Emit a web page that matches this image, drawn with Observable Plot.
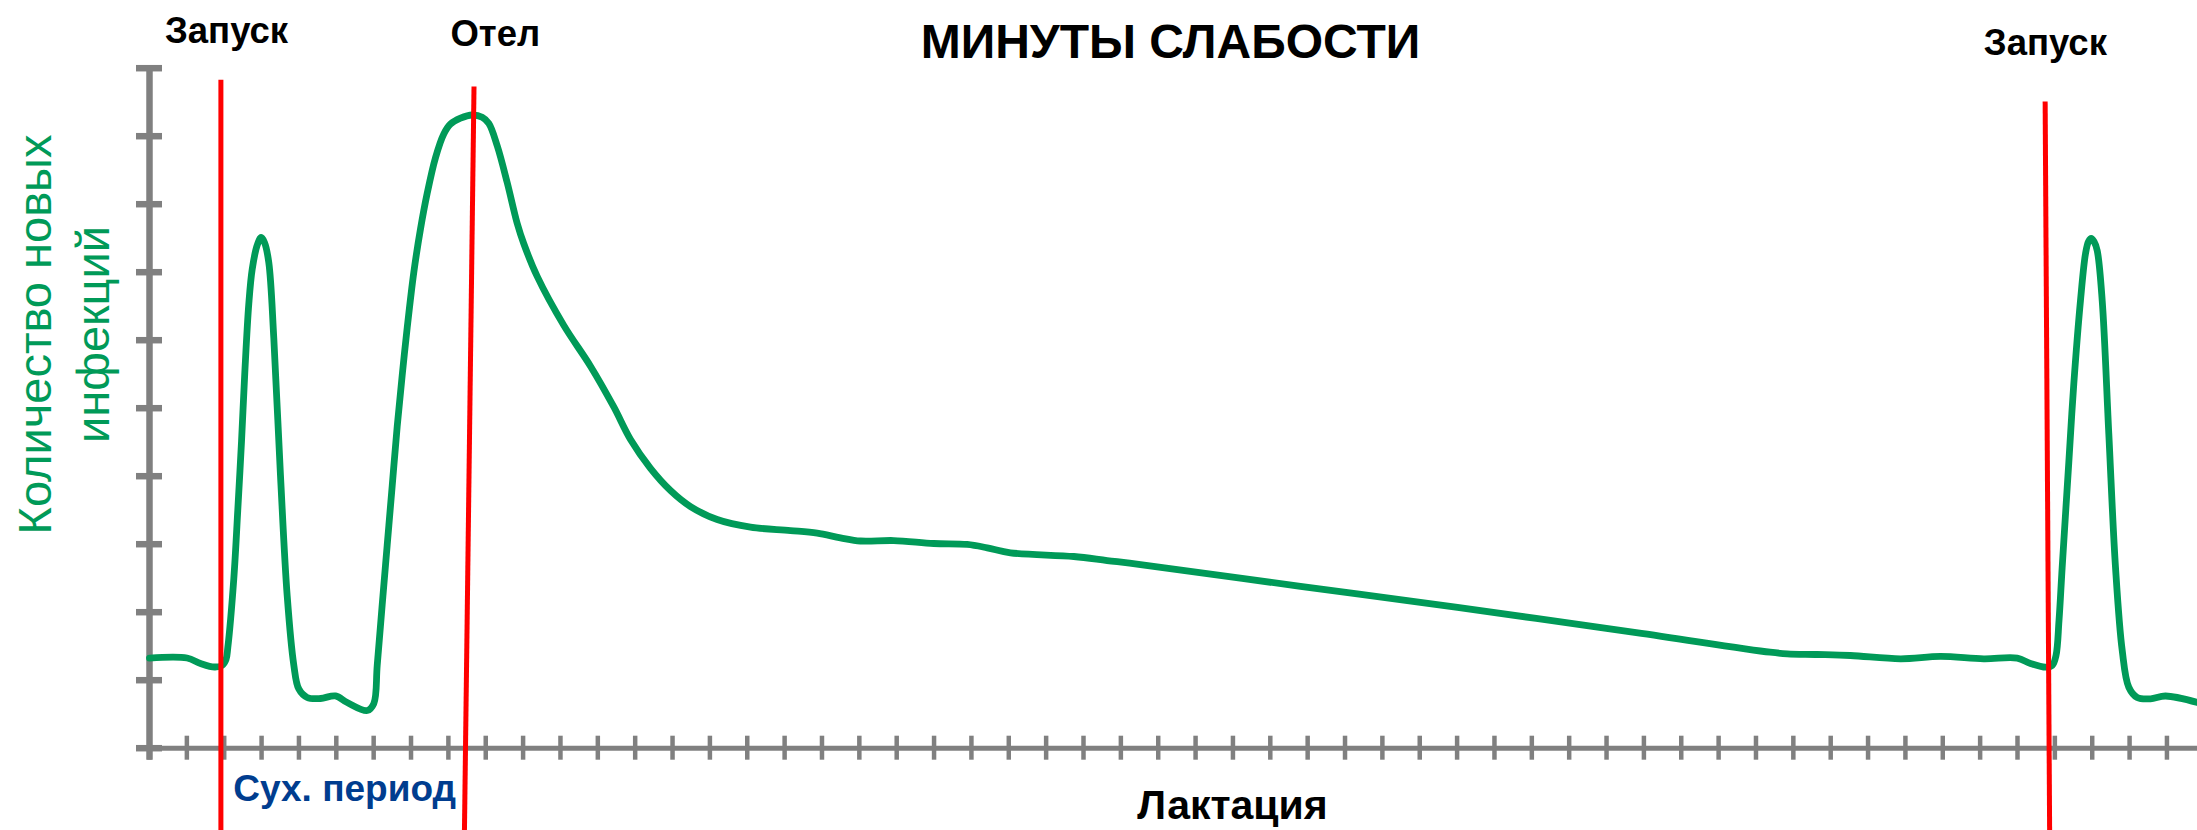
<!DOCTYPE html>
<html>
<head>
<meta charset="utf-8">
<script src="https://cdn.jsdelivr.net/npm/d3@7"></script>
<script src="https://cdn.jsdelivr.net/npm/@observablehq/plot@0.6"></script>
<style>
  html, body { margin: 0; padding: 0; background: #fff; overflow: hidden; }
  svg { display: block; }
</style>
</head>
<body>
<div id="chart"></div>
<script>
// ---- data (x in axis-tick units, y in axis-tick units) ----
const curveX = [0, 1.004, 1.365, 1.740, 1.941, 2.048, 2.096, 2.256, 2.363, 2.463, 2.551, 2.658, 2.749, 2.883, 2.990, 3.078, 3.193, 3.327, 3.506, 3.686, 3.862, 3.996,
  4.221, 4.577, 4.979, 5.292, 5.827, 6.004, 6.095, 6.229, 6.362, 6.496, 6.630, 6.764, 6.898, 7.074, 7.254, 7.433, 7.655, 7.877, 8.057, 8.324, 8.638,
  8.905, 9.082, 9.307, 9.574, 9.842, 10.019, 10.377, 11.089, 11.804, 12.428, 12.875, 13.410, 13.945, 14.481, 15.195, 16.087, 17.157, 17.872, 18.496, 19.031,
  19.922, 20.993, 21.887, 22.422, 23.046, 24.740, 25.634, 26.526, 30.808, 35.011, 39.794, 43.378, 43.836, 44.639, 45.530, 46.869, 47.939, 49.098, 49.992, 50.348,
  50.749, 50.929, 51.031, 51.111, 51.196, 51.373, 51.507, 51.686, 51.820, 51.900, 51.973, 52.048, 52.133, 52.267, 52.444, 52.623, 52.803, 52.979, 53.204, 53.560,
  53.961, 54.818];
const curveY = [1.326, 1.326, 1.246, 1.194, 1.216, 1.304, 1.481, 2.490, 3.501, 4.513, 5.525, 6.537, 7.043, 7.397, 7.510, 7.437, 7.143, 6.031, 4.010, 2.237, 1.225, 0.871,
  0.746, 0.731, 0.769, 0.672, 0.554, 0.657, 1.216, 2.113, 2.985, 3.857, 4.731, 5.485, 6.184, 6.996, 7.637, 8.160, 8.684, 9.032, 9.178, 9.265, 9.312,
  9.279, 9.188, 8.859, 8.319, 7.718, 7.418, 6.938, 6.218, 5.618, 5.018, 4.540, 4.116, 3.790, 3.554, 3.363, 3.250, 3.201, 3.162, 3.094, 3.047,
  3.054, 3.010, 2.996, 2.947, 2.874, 2.819, 2.760, 2.701, 2.380, 2.070, 1.700, 1.412, 1.388, 1.378, 1.363, 1.315, 1.349, 1.315, 1.324, 1.246,
  1.191, 1.216, 1.363, 1.878, 2.662, 4.201, 5.359, 6.584, 7.271, 7.451, 7.496, 7.451, 7.319, 6.584, 4.624, 2.662, 1.437, 0.897, 0.746, 0.726,
  0.768, 0.672];

const eventLabels  = ["Запуск", "Отел", "Запуск"];
const eventXTop    = [1.911, 8.686, 50.74];
const eventXBottom = [1.911, 8.43, 50.86];
const eventYTop    = [9.83, 9.73, 9.51];
const eventYBottom = -1.21;

const xTicks = d3.range(0, 55);
const yTicks = d3.range(0, 11);

const titleText = "МИНУТЫ СЛАБОСТИ";
const yLabelText = "Количество новых\nинфекций";
const xLabelText = "Лактация";
const dryLabelText = "Сух. период";

// ---- build ----
const curve = curveX.map((x, i) => ({x, y: curveY[i]}));
const events = eventLabels.map((label, i) => ({label, xTop: eventXTop[i], xBottom: eventXBottom[i], yTop: eventYTop[i], yBottom: eventYBottom}));

const GREEN = "#009a58";
const GRAY = "#808080";
const RED = "#ff0000";
const BLUE = "#003d8f";

const labelOffsets = [{dx: 5.6, dy: -36.3}, {dx: 21.3, dy: -41}, {dx: 0.2, dy: -46.5}];

const chart = Plot.plot({
  width: 2197,
  height: 830,
  marginLeft: 149,
  marginRight: 0,
  marginTop: 67.7,
  marginBottom: 82.3,
  x: {domain: [0, 54.818], axis: null},
  y: {domain: [0, 10], axis: null},
  style: {fontFamily: "'Liberation Sans', Arial, Helvetica, sans-serif", background: "#fff", overflow: "hidden"},
  marks: [
    // axes
    Plot.ruleX(xTicks, {y1: () => 0, y2: () => 0, insetTop: -12, insetBottom: -12, stroke: GRAY, strokeWidth: 4.5}),
    Plot.ruleY([0], {stroke: GRAY, strokeWidth: 5, insetLeft: -13}),
    Plot.ruleX([0], {stroke: GRAY, strokeWidth: 6.5, insetBottom: -12}),
    Plot.ruleY(yTicks, {x1: () => 0, x2: () => 0, insetLeft: -13, insetRight: -13, stroke: GRAY, strokeWidth: 6.5}),
    // curve
    Plot.line(curve, {x: "x", y: "y", stroke: GREEN, strokeWidth: 6.8, curve: "catmull-rom"}),
    // event lines
    Plot.link(events, {x1: "xTop", y1: "yTop", x2: "xBottom", y2: "yBottom", stroke: RED, strokeWidth: 5}),
    // event labels
    ...events.map((e, i) => Plot.text([e], {
      x: "xTop", y: "yTop", text: "label",
      dx: labelOffsets[i].dx, dy: labelOffsets[i].dy,
      lineAnchor: "bottom", textAnchor: "middle",
      fontSize: 36.5, fontWeight: "bold", fill: "#000"
    })),
    // title
    Plot.text([titleText], {frameAnchor: "top", dx: -3, dy: -9.7, lineAnchor: "bottom", fontSize: 48, fontWeight: "bold", fill: "#000"}),
    // x label
    Plot.text([xLabelText], {frameAnchor: "bottom", dx: 59, dy: 70.3, lineAnchor: "bottom", fontSize: 41, fontWeight: "bold", fill: "#000"}),
    // dry period label
    Plot.text([dryLabelText], {
      x: () => (eventXBottom[0] + eventXBottom[1]) / 2, y: () => 0,
      dx: 2, dy: 52.3, lineAnchor: "bottom", textAnchor: "middle",
      fontSize: 37, fontWeight: "bold", fill: BLUE
    }),
    // y label
    Plot.text([yLabelText], {
      frameAnchor: "top-left", dx: -139, dy: 266.3, rotate: -90,
      textAnchor: "middle", lineAnchor: "top", lineHeight: 1.22,
      fontSize: 47, fill: GREEN
    })
  ]
});
document.getElementById("chart").appendChild(chart);
</script>
</body>
</html>
